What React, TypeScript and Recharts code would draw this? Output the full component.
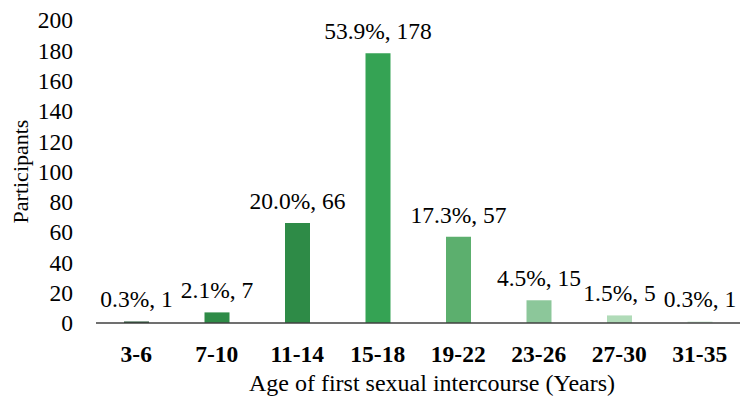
import React from "react";
import { BarChart, Bar, XAxis, YAxis, Cell, LabelList, Label } from "recharts";

// Age bands at first intercourse
const ageGroups = ["3-6", "7-10", "11-14", "15-18", "19-22", "23-26", "27-30", "31-35"];
// Number of participants in each band
const participants = [1, 7, 66, 178, 57, 15, 5, 1];
// Share of participants in each band (%)
const percentages = [0.3, 2.1, 20.0, 53.9, 17.3, 4.5, 1.5, 0.3];
// Y axis ticks
const yTicks = [0, 20, 40, 60, 80, 100, 120, 140, 160, 180, 200];
// Per-bar fill shades
const barColors = ["#1f4f2d", "#2e8b47", "#2e8b47", "#35a354", "#5caf6e", "#8cc79a", "#b0dbb8", "#d3ecd8"];

const data = ageGroups.map((g, i) => ({
  group: g,
  count: participants[i],
  label: `${percentages[i].toFixed(1)}%, ${participants[i]}`,
}));

const FONT = "Liberation Serif";

// Value label drawn on a single line above each bar
const ValueLabel = (props: any) => {
  const { x, y, width, value } = props;
  return (
    <text
      x={Number(x) + Number(width) / 2}
      y={Number(y) - 14}
      textAnchor="middle"
      fill="#000"
      style={{ fontFamily: FONT, fontSize: 23.5 }}
    >
      {value}
    </text>
  );
};

export default function App() {
  return (
    <div
      style={{
        position: "absolute",
        left: 0,
        top: 0,
        width: 750,
        height: 402,
        background: "#fff",
        fontFamily: FONT,
      }}
    >
      <BarChart
        width={750}
        height={402}
        data={data}
        margin={{ top: 20, right: 10, left: 0, bottom: 0 }}
        barSize={25}
        style={{ fontFamily: FONT }}
      >
        <XAxis
          dataKey="group"
          height={79}
          tickLine={false}
          tickSize={0}
          tickMargin={22}
          axisLine={{ stroke: "#404040", strokeWidth: 1.5 }}
          tick={{ fill: "#000", fontSize: 23.5, fontWeight: 700, style: { fontFamily: FONT } }}
          interval={0}
        >
          <Label
            value="Age of first sexual intercourse (Years)"
            position="insideBottom"
            offset={11}
            dx={14}
            style={{ fill: "#000", fontFamily: FONT, fontSize: 24 }}
          />
        </XAxis>
        <YAxis
          width={96}
          domain={[0, 200]}
          ticks={yTicks}
          axisLine={false}
          tickLine={false}
          tickSize={0}
          tickMargin={23}
          interval={0}
          tick={{ fill: "#000", fontSize: 23.5, style: { fontFamily: FONT } }}
        >
          <Label
            value="Participants"
            angle={-90}
            position="insideLeft"
            offset={20}
            style={{ fill: "#000", fontFamily: FONT, fontSize: 22, textAnchor: "middle" }}
          />
        </YAxis>
        <Bar dataKey="count" isAnimationActive={false}>
          {data.map((d, i) => (
            <Cell key={d.group} fill={barColors[i]} />
          ))}
          <LabelList dataKey="label" content={ValueLabel} />
        </Bar>
      </BarChart>
    </div>
  );
}
